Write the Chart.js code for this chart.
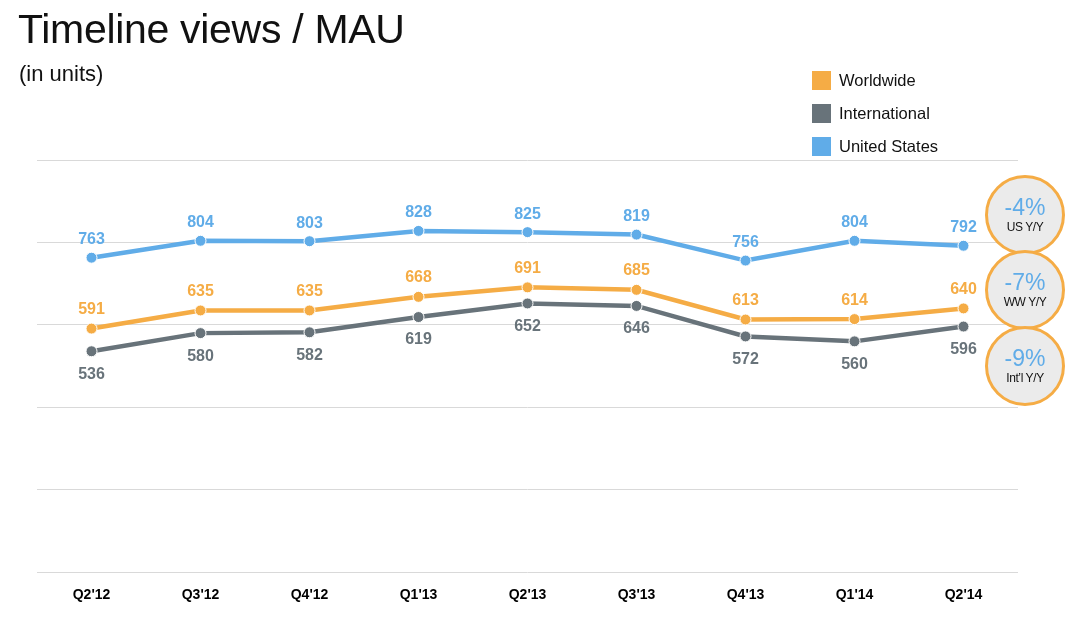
<!DOCTYPE html>
<html>
<head>
<meta charset="utf-8">
<script src="https://cdn.jsdelivr.net/npm/chart.js@4.4.1/dist/chart.umd.min.js"></script>
<style>
  html, body { margin: 0; padding: 0; background: #fff; }
  #wrap { position: relative; width: 1069px; height: 626px; overflow: hidden; font-family: "Liberation Sans", Arial, Helvetica, sans-serif; }
  #c { position: absolute; left: 0; top: 0; }
  .title { position: absolute; left: 18px; top: 6px; font-size: 41px; color: #111; letter-spacing: -0.3px; }
  .sub { position: absolute; left: 19px; top: 61px; font-size: 22px; color: #111; }
  .legend { position: absolute; left: 812px; top: 71px; }
  .legend .row { position: relative; height: 33px; font-size: 16.5px; color: #111; }
  .legend .sw { position: absolute; left: 0; top: 0; width: 19px; height: 19px; }
  .legend .tx { position: absolute; left: 27px; top: 0px; line-height: 19px; white-space: nowrap; }
  .yoy { position: absolute; width: 74px; height: 74px; border-radius: 50%; border: 3px solid #F5AC45; background: #EBEBEB; text-align: center; }
  .yoy .p { position: absolute; left: 0; right: 0; top: 16px; font-size: 23px; color: #60ACE8; line-height: 26px; }
  .yoy .l { position: absolute; left: 0; right: 0; top: 42px; font-size: 12px; color: #111; line-height: 14px; letter-spacing: -0.4px; }
</style>
</head>
<body>
<div id="wrap">
  <canvas id="c" width="1069" height="626"></canvas>
  <div class="title">Timeline views / MAU</div>
  <div class="sub">(in units)</div>
  <div class="legend" id="legend"></div>
  <div id="yoy"></div>
</div>
<script>
const categories = ["Q2'12", "Q3'12", "Q4'12", "Q1'13", "Q2'13", "Q3'13", "Q4'13", "Q1'14", "Q2'14"];
const usValues = [763, 804, 803, 828, 825, 819, 756, 804, 792];
const wwValues = [591, 635, 635, 668, 691, 685, 613, 614, 640];
const intlValues = [536, 580, 582, 619, 652, 646, 572, 560, 596];
const seriesNames = ["Worldwide", "International", "United States"];
const seriesColors = ["#F5AC45", "#68737A", "#60ACE8"];
const yoyValues = ["-4%", "-7%", "-9%"];
const yoyLabels = ["US Y/Y", "WW Y/Y", "Int\u2019l Y/Y"];
const yTicks = [0, 200, 400, 600, 800, 1000];

// legend
const legendEl = document.getElementById('legend');
seriesNames.forEach((n, i) => {
  const r = document.createElement('div'); r.className = 'row';
  r.innerHTML = '<div class="sw" style="background:' + seriesColors[i] + '"></div><div class="tx">' + n + '</div>';
  legendEl.appendChild(r);
});

// Y/Y circles
const yoyEl = document.getElementById('yoy');
const yoyTops = [175, 250, 326];
yoyValues.forEach((v, i) => {
  const d = document.createElement('div'); d.className = 'yoy';
  d.style.left = '985px'; d.style.top = yoyTops[i] + 'px';
  d.innerHTML = '<div class="p">' + v + '</div><div class="l">' + yoyLabels[i] + '</div>';
  yoyEl.appendChild(d);
});

const labelPlugin = {
  id: 'pointLabels',
  afterDatasetsDraw(chart) {
    const ctx = chart.ctx;
    ctx.save();
    ctx.font = 'bold 16px "Liberation Sans", Arial, sans-serif';
    ctx.textAlign = 'center';
    ctx.textBaseline = 'middle';
    chart.data.datasets.forEach((ds, di) => {
      const meta = chart.getDatasetMeta(di);
      const off = ds.labelOffset;
      ctx.fillStyle = ds.borderColor;
      meta.data.forEach((pt, i) => {
        ctx.fillText(String(ds.data[i]), pt.x, pt.y + off);
      });
    });
    ctx.restore();
  }
};

function ds(label, data, color, off) {
  return {
    label, data, borderColor: color, backgroundColor: color,
    borderWidth: 4.5, pointRadius: 5.5, pointBorderColor: '#ffffff', pointBorderWidth: 1,
    pointBackgroundColor: color, tension: 0, labelOffset: off
  };
}

new Chart(document.getElementById('c'), {
  type: 'line',
  data: {
    labels: categories,
    datasets: [
      ds(seriesNames[1], intlValues, seriesColors[1], 23),
      ds(seriesNames[0], wwValues, seriesColors[0], -19),
      ds(seriesNames[2], usValues, seriesColors[2], -18)
    ]
  },
  options: {
    responsive: false,
    animation: false,
    devicePixelRatio: 1,
    layout: { padding: { left: 37, right: 51, top: 160, bottom: 15 } },
    plugins: { legend: { display: false }, tooltip: { enabled: false }, title: { display: false } },
    scales: {
      x: {
        offset: true,
        grid: { display: false },
        border: { display: false },
        ticks: { color: '#000', font: { family: '"Liberation Sans", Arial, sans-serif', size: 14, weight: 'bold' }, padding: 7, maxRotation: 0 }
      },
      y: {
        min: yTicks[0], max: yTicks[yTicks.length - 1],
        afterBuildTicks(scale) { scale.ticks = yTicks.map(v => ({ value: v })); },
        ticks: { display: false },
        grid: { color: '#D9D9D9', lineWidth: 1, drawTicks: false },
        border: { display: false }
      }
    }
  },
  plugins: [labelPlugin]
});
</script>
</body>
</html>
